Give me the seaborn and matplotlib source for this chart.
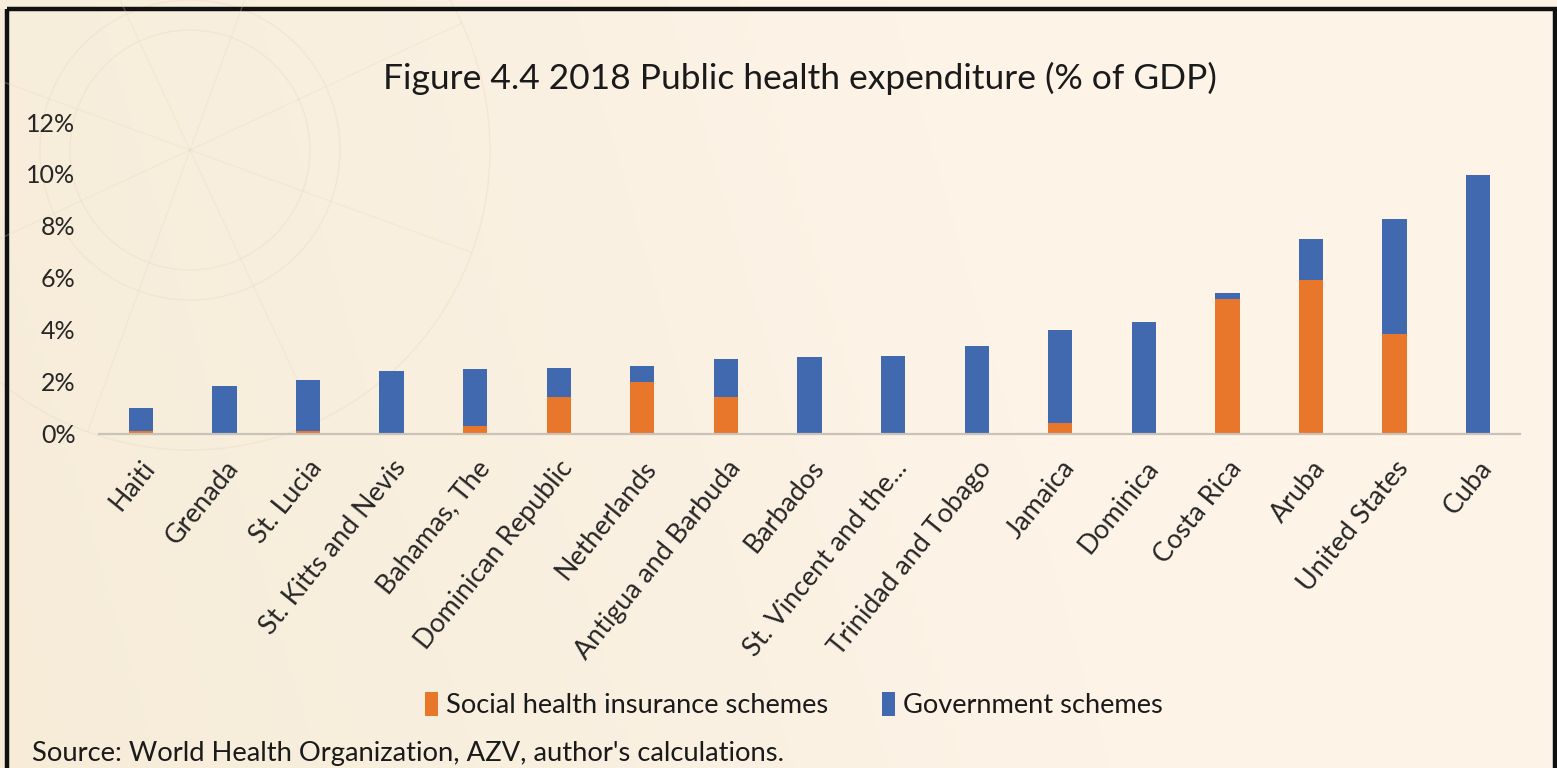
import numpy as np
import pandas as pd
import matplotlib
matplotlib.use("Agg")
import matplotlib.pyplot as plt
from matplotlib.patches import Rectangle, Patch, Circle
from matplotlib.ticker import PercentFormatter
import seaborn as sns

# Public health expenditure 2018, % of GDP
countries = ["Haiti", "Grenada", "St. Lucia", "St. Kitts and Nevis", "Bahamas, The",
             "Dominican Republic", "Netherlands", "Antigua and Barbuda", "Barbados",
             "St. Vincent and the...", "Trinidad and Tobago", "Jamaica", "Dominica",
             "Costa Rica", "Aruba", "United States", "Cuba"]
social_insurance = [0.1, 0.0, 0.1, 0.0, 0.3, 1.4, 2.0, 1.4, 0.0, 0.0, 0.0, 0.4, 0.0,
                    5.2, 5.9, 3.85, 0.0]
government = [0.9, 1.83, 1.95, 2.42, 2.2, 1.12, 0.6, 1.48, 2.94, 3.0, 3.37, 3.58, 4.28,
              0.22, 1.6, 4.4, 9.94]
y_ticks = [0, 2, 4, 6, 8, 10, 12]

series_names = ["Social health insurance schemes", "Government schemes"]
ORANGE = "#E8762B"
BLUE = "#4169AF"

df = pd.DataFrame({"country": countries,
                   "social": social_insurance,
                   "government": government})
df["total"] = df["social"] + df["government"]

sns.set_theme(style="white")
plt.rcParams["font.family"] = ["Lato", "DejaVu Sans"]

W, H = 1557, 768
fig = plt.figure(figsize=(W / 100, H / 100), dpi=100)

# warm parchment backdrop with a faint compass sketch
bg = fig.add_axes([0, 0, 1, 1], zorder=-10)
xs = np.linspace(0, 1, 400)
ys = np.linspace(0, 1, 200)
gx, gy = np.meshgrid(xs, ys)
left_col = np.array([246, 236, 216]) / 255
right_col = np.array([253, 243, 231]) / 255
t = np.clip(gx * 1.4 + (1 - gy) * 0.2, 0, 1)[..., None]
img = left_col * (1 - t) + right_col * t
bg.imshow(img, extent=[0, W, H, 0], aspect="auto", origin="upper")
for r in (120, 150, 300):
    bg.add_patch(Circle((190, 150), r, fill=False, ec="#E6D8BD", lw=1.0, alpha=0.35))
for ang in np.deg2rad([20, 65, 110, 155, 200, 245, 290, 335]):
    bg.plot([190, 190 + 300 * np.cos(ang)], [150, 150 + 300 * np.sin(ang)],
            color="#E6D8BD", lw=0.9, alpha=0.3)
bg.add_patch(Rectangle((7.5, 8.5), 1548, 780, fill=False, ec="#111111", lw=3.2))
bg.set_xlim(0, W)
bg.set_ylim(H, 0)
bg.axis("off")

ax = fig.add_axes([99 / W, 1 - 433.5 / H, (1520 - 99) / W, (433.5 - 122) / H])
ax.patch.set_alpha(0)

sns.barplot(data=df, x="country", y="total", color=BLUE, width=0.29,
            saturation=1, ax=ax, linewidth=0)
sns.barplot(data=df, x="country", y="social", color=ORANGE, width=0.29,
            saturation=1, ax=ax, linewidth=0)

ax.set_xlim(-0.5, len(countries) - 0.5)
ax.set_ylim(0, 12)
ax.set_yticks(y_ticks)
ax.yaxis.set_major_formatter(PercentFormatter(decimals=0))
ax.set_xlabel("")
ax.set_ylabel("")
for s in ("top", "right", "left"):
    ax.spines[s].set_visible(False)
ax.spines["bottom"].set_color("#C8C2B8")
ax.spines["bottom"].set_linewidth(1.6)
ax.tick_params(axis="y", length=0, pad=17, labelsize=18, labelcolor="#262626")
ax.tick_params(axis="x", length=0, pad=16, labelsize=19.3, labelcolor="#262626")
ax.set_xticks(range(len(countries)))
ax.set_xticklabels(countries, rotation=51, ha="right", rotation_mode="anchor")
ax.grid(False)

fig.text(800 / W, 1 - 78 / H, "Figure 4.4 2018 Public health expenditure (% of GDP)",
         ha="center", va="center", fontsize=25.5, color="#1a1a1a")

handles = [Patch(facecolor=ORANGE, edgecolor="none"),
           Patch(facecolor=BLUE, edgecolor="none")]
fig.legend(handles, series_names, loc="center", bbox_to_anchor=(794 / W, 1 - 705 / H),
           ncol=2, frameon=False, fontsize=19.6, handlelength=0.45, handleheight=1.0,
           handletextpad=0.3, columnspacing=2.0, labelcolor="#1a1a1a")

fig.text(32 / W, 1 - 753 / H, "Source: World Health Organization, AZV, author's calculations.",
         ha="left", va="center", fontsize=19.7, color="#1a1a1a")

fig.savefig("out.png", dpi=100)
